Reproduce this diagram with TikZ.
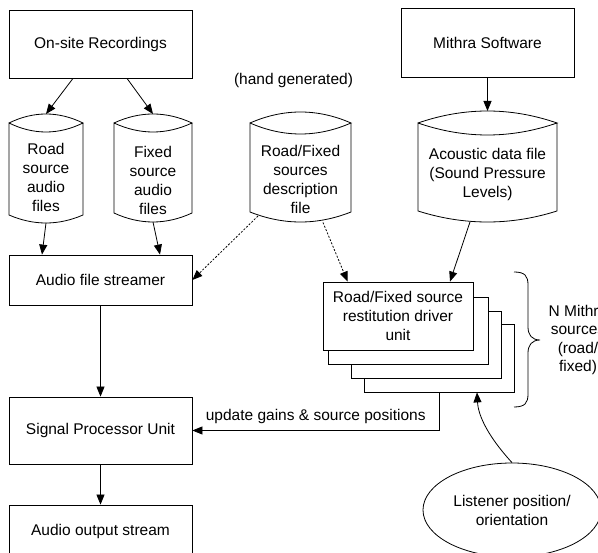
\documentclass[tikz,border=0pt]{standalone}
\usepackage{fontspec}
\setmainfont{Liberation Sans}
\usetikzlibrary{arrows.meta,calc,shapes.geometric}
\newcommand\cylshape[6]{%
 \pgfmathsetmacro\cw{(#2-#1)/3}%
 \pgfmathsetmacro\ctop{#3-4*#4/3}%
 \pgfmathsetmacro\clens{#3+4*#4/3}%
 \pgfmathsetmacro\cbot{#5+4*#6/3}%
 \draw[ln] (#1,#3) .. controls (#1+\cw,\ctop) and (#2-\cw,\ctop) .. (#2,#3)
   .. controls (#2-\cw,\clens) and (#1+\cw,\clens) .. (#1,#3)
   -- (#1,#5) .. controls (#1+\cw,\cbot) and (#2-\cw,\cbot) .. (#2,#5) -- (#2,#3);
}
\begin{document}
\begin{tikzpicture}[x=1pt,y=-1pt,
  ln/.style={line width=0.8pt,black},
  arr/.style={ln,-{Triangle[length=10pt,width=8pt]}},
  dsh/.style={arr,dash pattern=on 2pt off 1.6pt},
  box/.style={ln,draw,fill=white,rectangle,inner sep=0pt,align=center,
    font=\fontsize{15.5}{19}\selectfont},
  txt/.style={inner sep=0pt,align=center,font=\fontsize{15.5}{19}\selectfont}]
\useasboundingbox (0,0) rectangle (598,553);
\clip (0,0) rectangle (598,553);
% rectangles
\node[box,minimum width=183,minimum height=68] (onsite) at (100.5,44) {On-site Recordings};
\node[box,minimum width=173,minimum height=69] (mithra) at (487.5,42.5) {Mithra Software};
\node[box,minimum width=183,minimum height=50] (streamer) at (100.5,280) {Audio file streamer};
\node[box,minimum width=183,minimum height=67] (signal) at (100.5,430.5) {Signal Processor Unit};
\node[box,minimum width=183,minimum height=52] (output) at (100.5,531) {Audio output stream};
% cylinders
\cylshape{9}{83}{123}{9}{215}{8}
\cylshape{114}{192}{123}{9}{213}{9}
\cylshape{250}{351}{123}{11}{212}{10}
\cylshape{418}{557}{123}{12}{211}{11}
\node[txt] (road) at (46,177) {Road\\source\\audio\\files};
\node[txt] (fixed) at (153,180) {Fixed\\source\\audio\\files};
\node[txt] (desc) at (300.5,179) {Road/Fixed\\sources\\description\\file};
\node[txt] (acoustic) at (487.5,174) {Acoustic data file\\(Sound Pressure\\Levels)};
\coordinate (road-top) at (46,114);
\coordinate (road-bot) at (46,223);
\coordinate (fixed-top) at (153,114);
\coordinate (fixed-bot) at (153,222);
\coordinate (desc-bl) at (258,216);
\coordinate (desc-br) at (323,222.5);
\coordinate (acoustic-top) at (487.5,111);
\coordinate (acoustic-bot) at (470,222);
\node[txt] (hand) at (293.5,80) {(hand generated)};
% stack of driver units
\node[box,minimum width=150,minimum height=68] (b4) at (439,358) {};
\node[box,minimum width=150,minimum height=67] (b3) at (426,344.5) {};
\node[box,minimum width=160,minimum height=67] (b2) at (408,330.5) {};
\node[box,minimum width=150,minimum height=68] (front) at (398,316) {Road/Fixed source\\restitution driver\\unit};
% brace
\draw[ln] (514,272) .. controls (525,272) and (528,276) .. (528,285) -- (528,327)
  .. controls (528,335) and (532,340) .. (540,340)
  .. controls (532,340) and (528,345) .. (528,353) -- (528,394)
  .. controls (528,403) and (525,407) .. (514,407);
\node[txt,font=\fontsize{15.5}{18.5}\selectfont] (nmithra) at (578,340) {N Mithra\\sources\\(road/\\fixed)};
% listener
\node[ln,draw,ellipse,minimum width=178,minimum height=94,inner sep=0pt,align=center,
  font=\fontsize{15.5}{19}\selectfont] (listener) at (512,510) {Listener position/\\orientation};
% connectors
\draw[arr] ([xshift=-27.5pt]onsite.south) -- (road-top);
\draw[arr] ([xshift=26.5pt]onsite.south) -- (fixed-top);
\draw[arr] (road-bot) -- ([xshift=-58.5pt]streamer.north);
\draw[arr] (fixed-bot) -- ([xshift=59.5pt]streamer.north);
\draw[dsh] (desc-bl) -- (streamer.east);
\draw[dsh] (desc-br) -- ([xshift=25pt]front.north west);
\draw[arr] (mithra.south) -- (acoustic-top);
\draw[arr] (acoustic-bot) -- ([xshift=52pt]front.north);
\draw[arr] (streamer.south) -- (signal.north);
\draw[arr] (signal.south) -- (output.north);
\draw[arr] ([xshift=0pt]b4.south) |- node[txt,pos=0.75,above=6pt] {update gains \& source positions} (signal.east);
\draw[arr] (listener.north) .. controls (484,432) and (478,412) .. ([xshift=38pt]b4.south);
\end{tikzpicture}
\end{document}
